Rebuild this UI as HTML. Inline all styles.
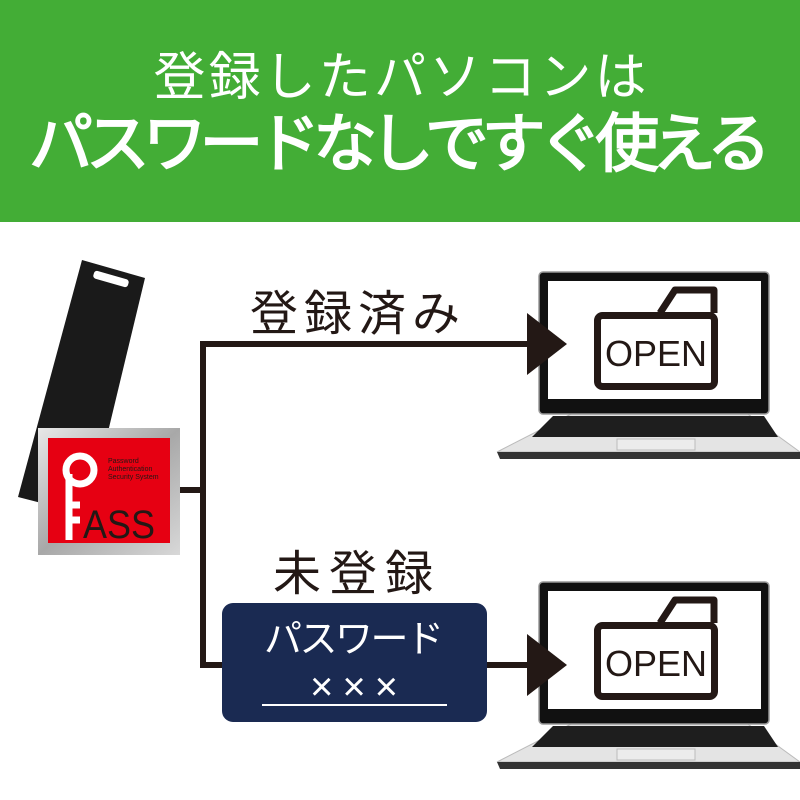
<!DOCTYPE html>
<html><head><meta charset="utf-8"><style>
html,body{margin:0;padding:0;background:#fff}
svg{display:block}
text{font-family:"Liberation Sans","Noto Sans CJK JP",sans-serif}
</style></head><body>
<svg width="800" height="800" viewBox="0 0 800 800" xmlns="http://www.w3.org/2000/svg">
<defs>
<linearGradient id="sil" x1="0" y1="0" x2="1" y2="1">
<stop offset="0" stop-color="#e8e8e8"/><stop offset="0.5" stop-color="#a8a8a8"/><stop offset="1" stop-color="#d8d8d8"/>
</linearGradient>
<g id="laptop">
<path d="M575,412 L745,412 L800,452 L497,452 Z" fill="#e4e4e4" stroke="#bbb" stroke-width="1"/>
<path d="M497,452 L800,452 L800,459 L500,459 Z" fill="#333"/>
<path d="M553,416 L764,416 L778,437 L532,437 Z" fill="#1e1e1e"/>
<rect x="617" y="439" width="78" height="11" fill="#ececec" stroke="#bbb"/>
<rect x="539" y="272" width="230" height="142" rx="4" fill="#111" stroke="#999" stroke-width="1.5"/>
<rect x="548" y="281" width="213" height="118" fill="#fff"/>
<path d="M660,313 L675,290 L714,290 L714,313" fill="none" stroke="#231815" stroke-width="7" stroke-linejoin="round"/>
<rect x="597.5" y="315.5" width="117" height="71" rx="5" fill="#fff" stroke="#231815" stroke-width="7"/>
<text x="656" y="366" font-size="36" text-anchor="middle" fill="#231815">OPEN</text>
</g>
</defs>
<rect x="0" y="0" width="800" height="222" fill="#43ad36"/>
<text x="400" y="95" font-size="52" fill="#fff" text-anchor="middle" textLength="493">登録したパソコンは</text>
<text x="400" y="166" font-size="64" fill="#fff" stroke="#fff" stroke-width="1.8" text-anchor="middle" textLength="742">パスワードなしですぐ使える</text>

<use href="#laptop"/>
<use href="#laptop" transform="translate(0,310)"/>

<!-- USB stick -->
<polygon points="82,260 145,278 88,515 18,497" fill="#1a1a1a"/>
<rect x="93" y="275" width="36" height="8" rx="3" fill="#fff" transform="rotate(16 111 279)"/>
<!-- PASS badge -->
<rect x="38" y="428" width="142" height="127" fill="url(#sil)"/>
<rect x="48" y="438" width="122" height="105" fill="#e60012"/>
<circle cx="80" cy="470" r="14" fill="none" stroke="#fff" stroke-width="7"/>
<path d="M69,474 L69,540 M69,505 L80,505 M69,520 L80,520" stroke="#fff" stroke-width="7" fill="none"/>
<text x="83" y="538" font-size="40" fill="#231815" textLength="72" lengthAdjust="spacingAndGlyphs">ASS</text>
<text x="108" y="463" font-size="7" fill="#231815">Password</text>
<text x="108" y="471" font-size="7" fill="#231815">Authentication</text>
<text x="108" y="479" font-size="7" fill="#231815">Security System</text>

<!-- connectors -->
<g stroke="#231815" stroke-width="6" fill="none">
<path d="M180,490 L203,490 M203,344 L203,665 M200,344 L530,344 M200,665 L530,665"/>
</g>
<polygon points="527,313 527,375 567,344" fill="#231815"/>
<polygon points="527,634 527,696 567,665" fill="#231815"/>

<text x="355" y="330" font-size="48" fill="#231815" text-anchor="middle" textLength="210">登録済み</text>
<text x="353" y="590" font-size="48" fill="#231815" text-anchor="middle" textLength="160">未登録</text>

<rect x="222" y="603" width="265" height="119" rx="11" fill="#1a2a52"/>
<text x="354" y="652" font-size="38" fill="#fff" text-anchor="middle" textLength="180">パスワード</text>
<text x="354" y="700" font-size="40" fill="#fff" text-anchor="middle" textLength="88" font-family="Noto Sans CJK JP">×××</text>
<line x1="262" y1="705" x2="447" y2="705" stroke="#fff" stroke-width="2"/>
</svg>
</body></html>
